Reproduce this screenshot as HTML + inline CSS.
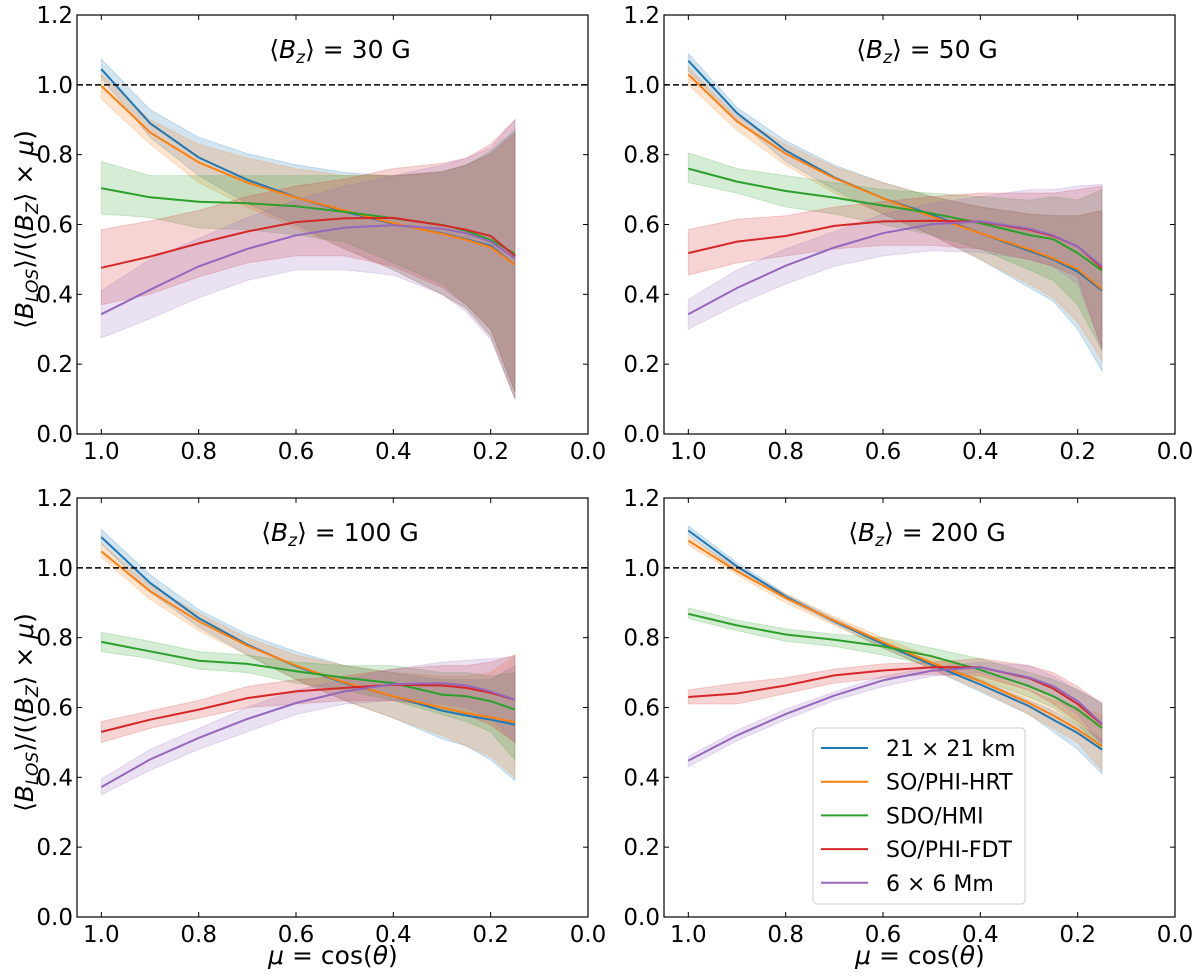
<!DOCTYPE html>
<html><head><meta charset="utf-8"><style>
html,body{margin:0;padding:0;background:#fff}
svg{display:block;font-family:"DejaVu Sans","Liberation Sans",sans-serif}
</style></head><body>
<svg id="fig" width="1200" height="980" viewBox="0 0 1200 980" xmlns="http://www.w3.org/2000/svg"></svg>
<script>
const mu = [1.0, 0.9, 0.8, 0.7, 0.6, 0.5, 0.4, 0.3, 0.25, 0.2, 0.15];
const xTicks = [1.0, 0.8, 0.6, 0.4, 0.2, 0.0];
const xTickLabels = ["1.0", "0.8", "0.6", "0.4", "0.2", "0.0"];
const yTicks = [0.0, 0.2, 0.4, 0.6, 0.8, 1.0, 1.2];
const yTickLabels = ["0.0", "0.2", "0.4", "0.6", "0.8", "1.0", "1.2"];
const seriesNames = ["21 × 21 km", "SO/PHI-HRT", "SDO/HMI", "SO/PHI-FDT", "6 × 6 Mm"];
const panelTitles = ["30", "50", "100", "200"];

// Bz = 30 G
const mean30 = [
 [1.045,0.89,0.792,0.728,0.678,0.637,0.602,0.575,0.558,0.539,0.484],
 [0.997,0.864,0.778,0.72,0.677,0.64,0.604,0.573,0.556,0.535,0.484],
 [0.704,0.678,0.665,0.661,0.652,0.636,0.618,0.599,0.582,0.556,0.516],
 [0.476,0.508,0.546,0.58,0.607,0.618,0.619,0.598,0.585,0.567,0.51],
 [0.343,0.413,0.48,0.53,0.569,0.591,0.598,0.588,0.575,0.551,0.503]];
const hi30 = [
 [1.074,0.929,0.85,0.803,0.771,0.749,0.738,0.752,0.771,0.804,0.866],
 [1.03,0.9,0.83,0.79,0.76,0.74,0.74,0.75,0.77,0.8,0.86],
 [0.78,0.74,0.74,0.74,0.74,0.74,0.74,0.75,0.77,0.81,0.87],
 [0.585,0.61,0.64,0.68,0.71,0.73,0.76,0.775,0.79,0.83,0.9],
 [0.41,0.5,0.56,0.62,0.67,0.71,0.74,0.77,0.79,0.82,0.9]];
const lo30 = [
 [1.02,0.85,0.74,0.66,0.6,0.53,0.47,0.4,0.36,0.28,0.1],
 [0.96,0.83,0.72,0.65,0.59,0.53,0.47,0.4,0.36,0.28,0.1],
 [0.63,0.62,0.59,0.585,0.57,0.55,0.49,0.43,0.37,0.3,0.12],
 [0.37,0.4,0.45,0.49,0.51,0.51,0.48,0.42,0.37,0.3,0.12],
 [0.275,0.33,0.39,0.44,0.47,0.47,0.455,0.4,0.35,0.27,0.1]];

// Bz = 50 G
const mean50 = [
 [1.069,0.919,0.812,0.735,0.675,0.628,0.575,0.525,0.5,0.465,0.411],
 [1.03,0.895,0.803,0.733,0.675,0.623,0.575,0.529,0.503,0.472,0.415],
 [0.76,0.723,0.696,0.677,0.654,0.632,0.604,0.57,0.558,0.518,0.468],
 [0.518,0.551,0.567,0.596,0.609,0.611,0.608,0.585,0.567,0.537,0.475],
 [0.343,0.418,0.482,0.534,0.575,0.601,0.609,0.588,0.569,0.537,0.48]];
const hi50 = [
 [1.09,0.935,0.84,0.77,0.72,0.68,0.65,0.63,0.625,0.625,0.64],
 [1.05,0.91,0.83,0.765,0.72,0.68,0.65,0.63,0.625,0.625,0.64],
 [0.805,0.76,0.74,0.72,0.7,0.69,0.68,0.67,0.68,0.67,0.7],
 [0.585,0.615,0.625,0.65,0.665,0.68,0.69,0.69,0.69,0.7,0.71],
 [0.385,0.47,0.53,0.58,0.63,0.66,0.68,0.7,0.7,0.71,0.715]];
const lo50 = [
 [1.04,0.9,0.78,0.7,0.63,0.57,0.5,0.42,0.38,0.3,0.18],
 [1.0,0.87,0.77,0.69,0.63,0.57,0.5,0.43,0.39,0.32,0.21],
 [0.72,0.69,0.65,0.63,0.6,0.57,0.53,0.47,0.44,0.37,0.24],
 [0.455,0.49,0.51,0.53,0.54,0.54,0.53,0.5,0.48,0.45,0.24],
 [0.3,0.37,0.43,0.48,0.51,0.525,0.52,0.5,0.48,0.43,0.25]];

// Bz = 100 G
const mean100 = [
 [1.088,0.957,0.856,0.78,0.718,0.67,0.632,0.591,0.577,0.565,0.551],
 [1.047,0.933,0.847,0.777,0.72,0.672,0.632,0.599,0.584,0.572,0.558],
 [0.788,0.761,0.734,0.725,0.704,0.685,0.67,0.637,0.632,0.618,0.594],
 [0.53,0.565,0.594,0.627,0.646,0.656,0.665,0.663,0.656,0.642,0.622],
 [0.372,0.451,0.513,0.567,0.613,0.646,0.667,0.67,0.663,0.646,0.622]];
const hi100 = [
 [1.11,0.98,0.88,0.81,0.76,0.72,0.7,0.68,0.68,0.68,0.72],
 [1.07,0.95,0.87,0.8,0.75,0.72,0.7,0.69,0.69,0.7,0.75],
 [0.815,0.79,0.76,0.75,0.73,0.72,0.72,0.7,0.7,0.69,0.7],
 [0.56,0.59,0.62,0.66,0.68,0.69,0.71,0.72,0.72,0.73,0.75],
 [0.395,0.48,0.54,0.6,0.65,0.68,0.71,0.73,0.735,0.74,0.745]];
const lo100 = [
 [1.07,0.93,0.83,0.75,0.68,0.62,0.57,0.51,0.49,0.45,0.39],
 [1.03,0.91,0.82,0.75,0.68,0.62,0.57,0.52,0.49,0.46,0.4],
 [0.76,0.74,0.71,0.7,0.67,0.65,0.62,0.58,0.56,0.53,0.45],
 [0.5,0.54,0.57,0.6,0.61,0.62,0.62,0.6,0.58,0.55,0.5],
 [0.35,0.42,0.48,0.53,0.58,0.61,0.62,0.61,0.6,0.57,0.5]];

// Bz = 200 G
const mean200 = [
 [1.107,1.004,0.918,0.847,0.782,0.723,0.666,0.604,0.565,0.527,0.479],
 [1.078,0.99,0.914,0.849,0.787,0.728,0.675,0.613,0.577,0.537,0.489],
 [0.868,0.835,0.809,0.794,0.775,0.747,0.708,0.661,0.632,0.594,0.541],
 [0.63,0.64,0.663,0.692,0.706,0.715,0.715,0.684,0.654,0.61,0.551],
 [0.448,0.52,0.581,0.634,0.678,0.705,0.715,0.686,0.661,0.618,0.553]];
const hi200 = [
 [1.12,1.015,0.925,0.855,0.79,0.73,0.68,0.62,0.59,0.55,0.51],
 [1.09,1.0,0.925,0.86,0.8,0.745,0.7,0.65,0.62,0.6,0.58],
 [0.885,0.85,0.825,0.81,0.8,0.77,0.74,0.7,0.68,0.65,0.61],
 [0.65,0.67,0.685,0.71,0.725,0.73,0.74,0.72,0.7,0.66,0.61],
 [0.46,0.535,0.595,0.645,0.69,0.715,0.73,0.72,0.69,0.65,0.615]];
const lo200 = [
 [1.095,0.99,0.91,0.84,0.77,0.71,0.645,0.58,0.53,0.48,0.41],
 [1.065,0.98,0.9,0.835,0.77,0.71,0.65,0.58,0.54,0.5,0.42],
 [0.855,0.82,0.79,0.775,0.75,0.72,0.68,0.63,0.6,0.55,0.48],
 [0.61,0.61,0.64,0.67,0.685,0.695,0.69,0.65,0.61,0.56,0.5],
 [0.43,0.505,0.565,0.62,0.66,0.69,0.7,0.66,0.63,0.58,0.49]];

const panelMeans = [mean30, mean50, mean100, mean200];
const panelHis = [hi30, hi50, hi100, hi200];
const panelLos = [lo30, lo50, lo100, lo200];

const colors = ["#1f77b4", "#ff7f0e", "#2ca02c", "#d62728", "#9467bd"];
const panelPos = [[77,15],[664,15],[77,498],[664,498]];
const PW = 511, PH = 419, XMAX = 1.05, XMIN = 0.0, YMIN = 0, YMAX = 1.2;
const NS = "http://www.w3.org/2000/svg";
const svg = document.getElementById("fig");

function mk(tag, attrs, parent) {
  const e = document.createElementNS(NS, tag);
  for (const k in attrs) e.setAttribute(k, attrs[k]);
  (parent || svg).appendChild(e);
  return e;
}

panelPos.forEach((pos, p) => {
  const [L, T] = pos;
  const xs = v => L + (XMAX - v) / (XMAX - XMIN) * PW;
  const ys = v => T + (YMAX - v) / (YMAX - YMIN) * PH;
  const g = mk("g", {});
  
  

  for (let s = 0; s < 5; s++) {
    const hi = panelHis[p][s], lo = panelLos[p][s];
    let d = "";
    mu.forEach((m, i) => { d += (i ? "L" : "M") + xs(m).toFixed(1) + "," + ys(hi[i]).toFixed(1); });
    for (let i = mu.length - 1; i >= 0; i--) d += "L" + xs(mu[i]).toFixed(1) + "," + ys(lo[i]).toFixed(1);
    const band = mk("path", {d: d + "Z", fill: colors[s], "fill-opacity": 0.2, stroke: colors[s], "stroke-opacity": 0.2, "stroke-width": 1}, g);
    
    
  }
  for (let s = 0; s < 5; s++) {
    const pts = mu.map((m, i) => xs(m).toFixed(1) + "," + ys(panelMeans[p][s][i]).toFixed(1)).join(" ");
    const line = mk("polyline", {points: pts, fill: "none", stroke: colors[s], "stroke-width": 2}, g);
    
    
  }
  const ref = mk("line", {x1: L, x2: L + PW, y1: ys(1.0), y2: ys(1.0), stroke: "#000", "stroke-width": 1.5, "stroke-dasharray": "6,3"}, g);
  
  

  const frame = mk("rect", {x: L, y: T, width: PW, height: PH, fill: "none", stroke: "#000", "stroke-width": 1.2}, g);
  
  

  xTicks.forEach((v, i) => {
    const x = xs(v);
    mk("line", {x1: x, x2: x, y1: T + PH, y2: T + PH - 5, stroke: "#000", "stroke-width": 1}, g);
    mk("line", {x1: x, x2: x, y1: T, y2: T + 5, stroke: "#000", "stroke-width": 1}, g);
    const t = mk("text", {x: x, y: T + PH + 25, "text-anchor": "middle", "font-size": 23, fill: "#000"}, g);
    t.textContent = xTickLabels[i];
    
    
  });
  yTicks.forEach((v, i) => {
    const y = ys(v);
    mk("line", {x1: L, x2: L + 5, y1: y, y2: y, stroke: "#000", "stroke-width": 1}, g);
    mk("line", {x1: L + PW, x2: L + PW - 5, y1: y, y2: y, stroke: "#000", "stroke-width": 1}, g);
    const t = mk("text", {x: L - 4, y: y + 8, "text-anchor": "end", "font-size": 23, fill: "#000"}, g);
    t.textContent = yTickLabels[i];
    
    
  });

  const tt = mk("text", {x: L + 263, y: T + 43, "text-anchor": "middle", "font-size": 25, fill: "#000"}, g);
  tt.innerHTML = '⟨<tspan font-style="italic">B</tspan><tspan font-style="italic" font-size="17" dy="5">z</tspan><tspan dy="-5">⟩ = ' + panelTitles[p] + ' G</tspan>';
  
  

  if (L < 300) {
    const cy = T + PH / 2 + 5;
    const yl = mk("text", {x: 0, y: 0, transform: "translate(33," + cy + ") rotate(-90)", "text-anchor": "middle", "font-size": 25, fill: "#000"}, g);
    yl.innerHTML = '⟨<tspan font-style="italic">B</tspan><tspan font-style="italic" font-size="17" dy="5">LOS</tspan><tspan dy="-5">⟩/(⟨</tspan><tspan font-style="italic">B</tspan><tspan font-style="italic" font-size="17" dy="5">Z</tspan><tspan dy="-5">⟩ × </tspan><tspan font-style="italic">μ</tspan>)';
    
    
  }
  if (T > 300) {
    const xl = mk("text", {x: L + 256, y: T + PH + 47, "text-anchor": "middle", "font-size": 25, fill: "#000"}, g);
    xl.innerHTML = '<tspan font-style="italic">μ</tspan> = cos(<tspan font-style="italic">θ</tspan>)';
    
    
  }
});

const lg = mk("g", {});


mk("rect", {x: 813, y: 728, width: 212, height: 176, rx: 4, fill: "#fff", "fill-opacity": 0.85, stroke: "#ccc", "stroke-width": 1}, lg);
seriesNames.forEach((n, i) => {
  const y = 748 + i * 33.7;
  const e = mk("g", {}, lg);
  
  
  mk("line", {x1: 821, x2: 868, y1: y, y2: y, stroke: colors[i], "stroke-width": 2}, e);
  const t = mk("text", {x: 886, y: y + 8, "font-size": 22, fill: "#000"}, e);
  t.textContent = n;
});
</script>
</body></html>
